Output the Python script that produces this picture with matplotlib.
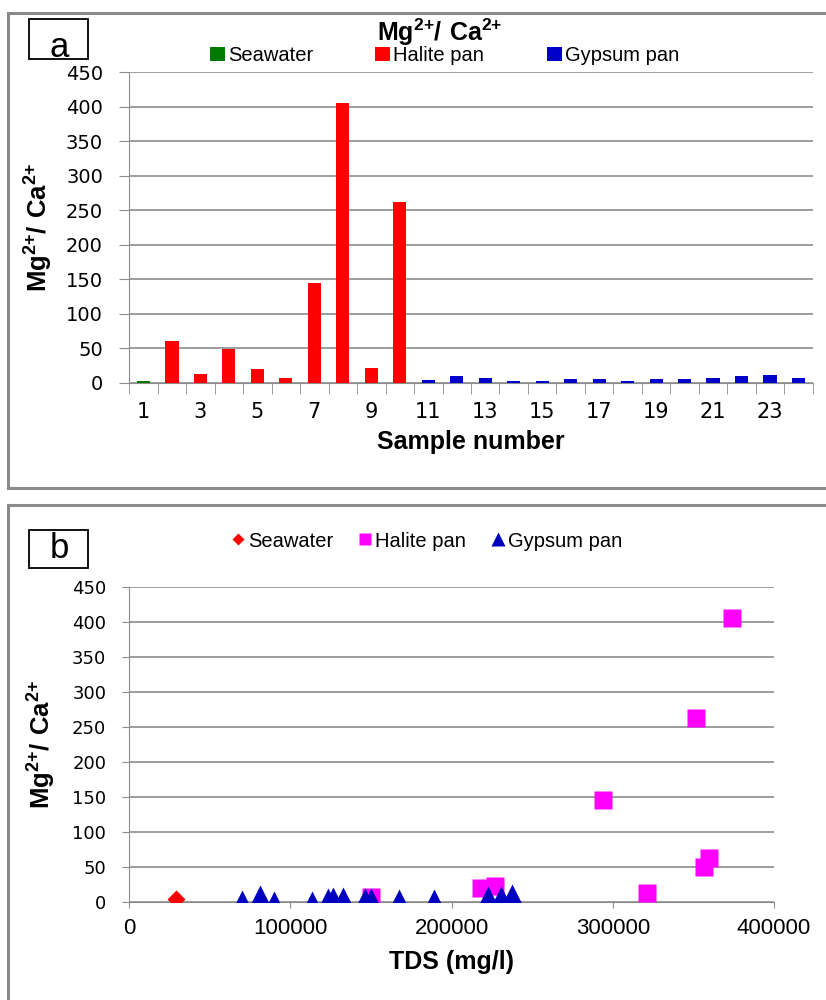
import matplotlib
matplotlib.use('Agg')
import matplotlib.pyplot as plt
from matplotlib.lines import Line2D
from matplotlib.patches import Rectangle
from matplotlib.ticker import MultipleLocator, FixedLocator

# panel a: Mg/Ca ratio by sample number
samples = list(range(1, 25))
seawater_idx = [1]
seawater_ratio = [2.5]
halite_idx = [2, 3, 4, 5, 6, 7, 8, 9, 10]
halite_ratio = [61, 13, 49, 20, 7, 145, 406, 21, 262]
gypsum_idx = list(range(11, 25))
gypsum_ratio = [4, 9, 7, 2.5, 2.5, 6, 6, 2.5, 6, 6, 7, 9, 11, 7]

# panel b: Mg/Ca ratio against TDS
sw_tds = [29000]
sw_ratio = [4]
hal_tds = [360000, 321000, 356500, 218000, 150000, 294000, 374000, 227000, 351500]
hal_ratio = [62, 12, 49, 19, 7, 146, 406, 22, 262]
gyp_tds = [70000, 81000, 89500, 113500, 123000, 126500, 132500, 146000, 150000,
           167500, 189000, 222500, 230500, 237500]
gyp_ratio = [3, 10, 0.5, 0.5, 5.5, 7, 7, 6, 6, 4, 4, 7.5, 8, 11]

y_ticks = list(range(0, 451, 50))
x_labels_a = [str(i) for i in range(1, 25, 2)]

plt.rcParams['mathtext.fontset'] = 'custom'
plt.rcParams['mathtext.rm'] = 'Liberation Sans'
plt.rcParams['mathtext.bf'] = 'Liberation Sans:bold'

GRID = '#8c8c8c'
BORDER = '#8a8a8a'
ratio_lbl = r'$\mathbf{Mg^{2{+}}/\ Ca^{2{+}}}$'
leg_font = {'family': 'Liberation Sans', 'size': 14.5}

fig = plt.figure(figsize=(8.26, 10.0), dpi=100)

# panel borders (grey frame like the source document)
fig.add_artist(Line2D([0.0097, 0.0097], [1 - 0.013, 1 - 0.488], color=BORDER, lw=2.2))
fig.add_artist(Line2D([0.0097, 1.0], [1 - 0.013, 1 - 0.013], color=BORDER, lw=2.2))
fig.add_artist(Line2D([0.0097, 1.0], [1 - 0.488, 1 - 0.488], color=BORDER, lw=2.2))
fig.add_artist(Line2D([0.0097, 0.0097], [1 - 0.505, 0.0], color=BORDER, lw=2.2))
fig.add_artist(Line2D([0.0097, 1.0], [1 - 0.505, 1 - 0.505], color=BORDER, lw=2.2))

###############################################################################
# a
axA = fig.add_axes([0.1565, 0.6173, 0.9839 - 0.1565, 0.9277 - 0.6173])
axA.bar(seawater_idx, seawater_ratio, width=0.46, color='#007a00', label='Seawater', zorder=3)
axA.bar(halite_idx, halite_ratio, width=0.46, color='#ff0000', label='Halite pan', zorder=3)
axA.bar(gypsum_idx, gypsum_ratio, width=0.46, color='#0000cc', label='Gypsum pan', zorder=3)

axA.set_xlim(0.5, 24.5)
axA.set_ylim(0, 450)
axA.set_yticks(y_ticks)
axA.xaxis.set_major_locator(FixedLocator(range(1, 25, 2)))
axA.set_xticklabels(x_labels_a)
axA.xaxis.set_minor_locator(FixedLocator([i + 0.5 for i in range(0, 25)]))
axA.tick_params(axis='x', which='major', length=0, pad=14, labelsize=15)
axA.tick_params(axis='x', which='minor', length=8, color=GRID, direction='out')
axA.tick_params(axis='y', length=7, color=GRID, pad=12, labelsize=14)
axA.yaxis.grid(True, color=GRID, lw=1.2, zorder=0)
axA.set_axisbelow(True)
for s in ['top', 'right']:
    axA.spines[s].set_visible(False)
for s in ['left', 'bottom']:
    axA.spines[s].set_color(GRID)
axA.set_xlabel('Sample number', family='Liberation Sans', weight='bold', fontsize=18, labelpad=6)
axA.set_ylabel(ratio_lbl, fontsize=18.5, labelpad=8)
axA.text(0.455, 1.13, ratio_lbl, transform=axA.transAxes, ha='center', va='center', fontsize=18)
axA.legend(loc='center', bbox_to_anchor=(0.461, 1.054), ncol=3, frameon=False,
           prop=leg_font, handlelength=0.75, handleheight=0.75,
           handletextpad=0.15, columnspacing=3.1, borderaxespad=0)
fig.text(0.0714, 0.9528, 'a', fontsize=25, family='Liberation Sans', ha='center', va='center')
fig.add_artist(Rectangle((0.0351, 1 - 0.059), 0.0714, 0.040, fill=False, ec='black', lw=1.3,
                         transform=fig.transFigure))

###############################################################################
# b
axB = fig.add_axes([0.1565, 0.0983, 0.937 - 0.1565, 0.4133 - 0.0983])
axB.plot(sw_tds, sw_ratio, 'D', color='#ff0000', ms=9, label='Seawater', zorder=3, mec='none')
axB.plot(hal_tds, hal_ratio, 's', color='#ff00ff', ms=13, label='Halite pan', zorder=3, mec='none')
axB.plot(gyp_tds, gyp_ratio, '^', color='#0000c0', ms=14, label='Gypsum pan', zorder=4, mec='none')
axB.set_xlim(0, 400000)
axB.set_ylim(0, 450)
axB.set_yticks(y_ticks)
axB.xaxis.set_major_locator(MultipleLocator(100000))
axB.xaxis.set_major_formatter(lambda v, p: '%d' % v)
axB.tick_params(axis='x', length=4.5, color=GRID, pad=7, labelsize=16)
for lb in axB.get_xticklabels():
    lb.set_family('Liberation Sans')
axB.tick_params(axis='y', length=5, color=GRID, pad=11.5, labelsize=13)
axB.yaxis.grid(True, color=GRID, lw=1.2, zorder=0)
axB.set_axisbelow(True)
for s in ['top', 'right']:
    axB.spines[s].set_visible(False)
for s in ['left', 'bottom']:
    axB.spines[s].set_color(GRID)
axB.set_xlabel('TDS (mg/l)', family='Liberation Sans', weight='bold', fontsize=18, labelpad=8)
axB.set_ylabel(ratio_lbl, fontsize=18.5, labelpad=10)
axB.legend(loc='center', bbox_to_anchor=(0.462, 1.145), ncol=3, frameon=False,
           prop=leg_font, markerscale=0.7,
           handlelength=0.6, handletextpad=0.2, columnspacing=1.3, borderaxespad=0)
fig.text(0.0714, 0.451, 'b', fontsize=25, family='Liberation Sans', ha='center', va='center')
fig.add_artist(Rectangle((0.0351, 1 - 0.568), 0.0714, 0.038, fill=False, ec='black', lw=1.3,
                         transform=fig.transFigure))

fig.savefig('out.png', dpi=100)
